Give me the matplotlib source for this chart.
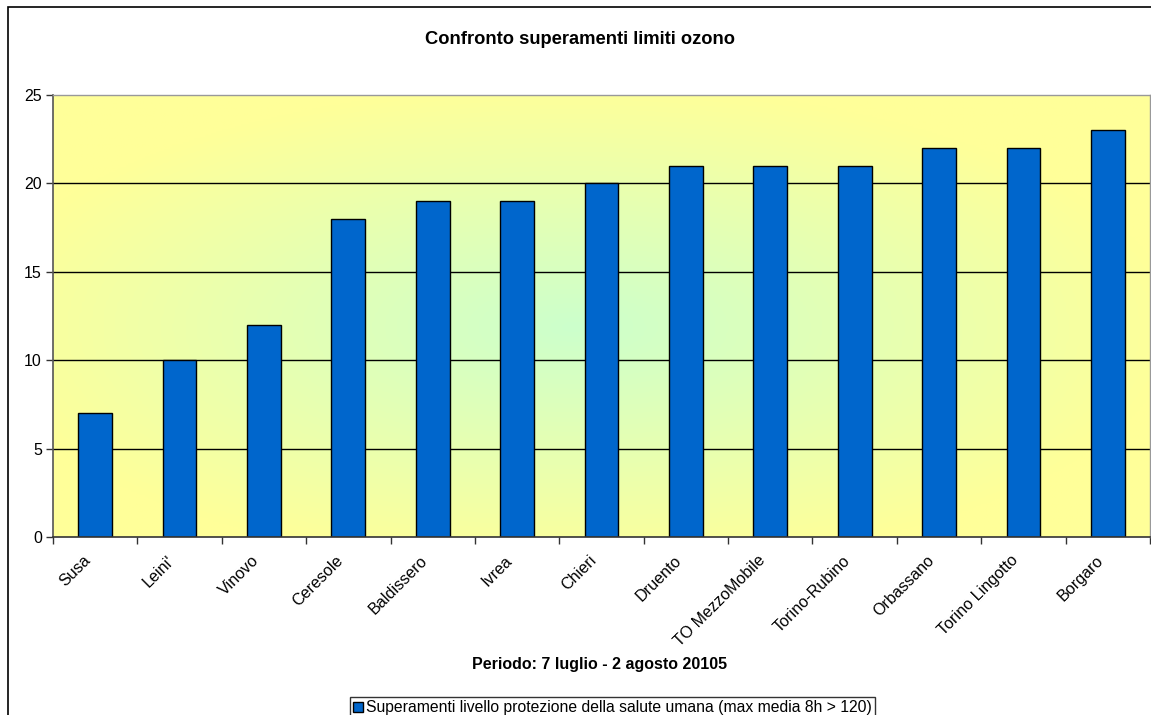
import matplotlib
matplotlib.use("Agg")
import matplotlib.pyplot as plt
import numpy as np
from matplotlib.patches import Rectangle
from matplotlib.colors import LinearSegmentedColormap

categories = ["Susa", "Leini'", "Vinovo", "Ceresole", "Baldissero", "Ivrea", "Chieri",
              "Druento", "TO MezzoMobile", "Torino-Rubino", "Orbassano", "Torino Lingotto", "Borgaro"]
values = [7, 10, 12, 18, 19, 19, 20, 21, 21, 21, 22, 22, 23]
yticks = [0, 5, 10, 15, 20, 25]
title = "Confronto superamenti limiti ozono"
xlabel = "Periodo: 7 luglio - 2 agosto 20105"
series_name = "Superamenti livello protezione della salute umana (max media 8h > 120)"

plt.rcParams['font.family'] = ['Liberation Sans', 'DejaVu Sans']

W, H = 1151, 715
fig = plt.figure(figsize=(W/100, H/100), dpi=100)
fig.patch.set_facecolor('white')

# outer chart border
fig.patches.append(Rectangle((8/W, -0.05), 1.2, (H-7)/H + 0.05, transform=fig.transFigure,
                             fill=False, edgecolor='black', linewidth=1.2))

left, right, top, bottom = 53, 1150, 95, 537
ax = fig.add_axes([left/W, 1-bottom/H, (right-left)/W, (bottom-top)/H])

n = len(categories)
x = np.arange(n)
ax.set_xlim(-0.5, n-0.5)
ax.set_ylim(0, 25)

# gradient background: light green centre to yellow edges
gx = np.linspace(-1, 1, 400)
gy = np.linspace(-1, 1, 250)
GX, GY = np.meshgrid(gx, gy)
cx, cy = -0.05, 0.05
d = np.sqrt(((GX-cx)/1.0)**2 + ((GY-cy)/1.0)**2)
d = np.clip(d/1.1, 0, 1)
cmap = LinearSegmentedColormap.from_list("bg", ["#ccffcc", "#ffff99"])
ax.imshow(d, cmap=cmap, extent=(-0.5, n-0.5, 0, 25), aspect='auto', zorder=0, vmin=0, vmax=1)

for yv in yticks[1:-1]:
    ax.axhline(yv, color='black', linewidth=1.0, zorder=1)

ax.bar(x, values, width=0.4, color='#0066cc', edgecolor='black', linewidth=1.0, zorder=2,
       label=series_name)

ax.set_yticks(yticks)
ax.set_yticklabels([str(v) for v in yticks], fontsize=11.5)
ax.set_xticks(np.arange(n+1) - 0.5, minor=False)
ax.set_xticklabels([])
ax.tick_params(axis='x', length=5, width=1, color='#333333', direction='out')
ax.tick_params(axis='y', length=5, width=1, color='#333333', direction='out', pad=3)
for i, c in enumerate(categories):
    ax.text(i - 0.15, -0.9, c, rotation=45, ha='right', va='top', fontsize=11.6,
            rotation_mode='anchor')

for s in ['top', 'right']:
    ax.spines[s].set_color('#999999')
    ax.spines[s].set_linewidth(1.0)
ax.spines['left'].set_color('#555555')
ax.spines['bottom'].set_color('#333333')
ax.spines['left'].set_linewidth(1.2)
ax.spines['bottom'].set_linewidth(1.2)

fig.text(580/W, 1-40/H, title, ha='center', va='center', fontsize=13.2, fontweight='bold')
fig.text(600/W, 1-665/H, xlabel, ha='center', va='center', fontsize=11.5, fontweight='bold')

leg = fig.legend(loc='upper left', bbox_to_anchor=(350/W, 1-697/H), fontsize=11.3,
                 frameon=True, fancybox=False, edgecolor='black', handlelength=0.6,
                 handleheight=0.6, handletextpad=0.2, borderpad=0.2, borderaxespad=0)
leg.get_frame().set_linewidth(1.0)

fig.savefig("out.png", dpi=100)
